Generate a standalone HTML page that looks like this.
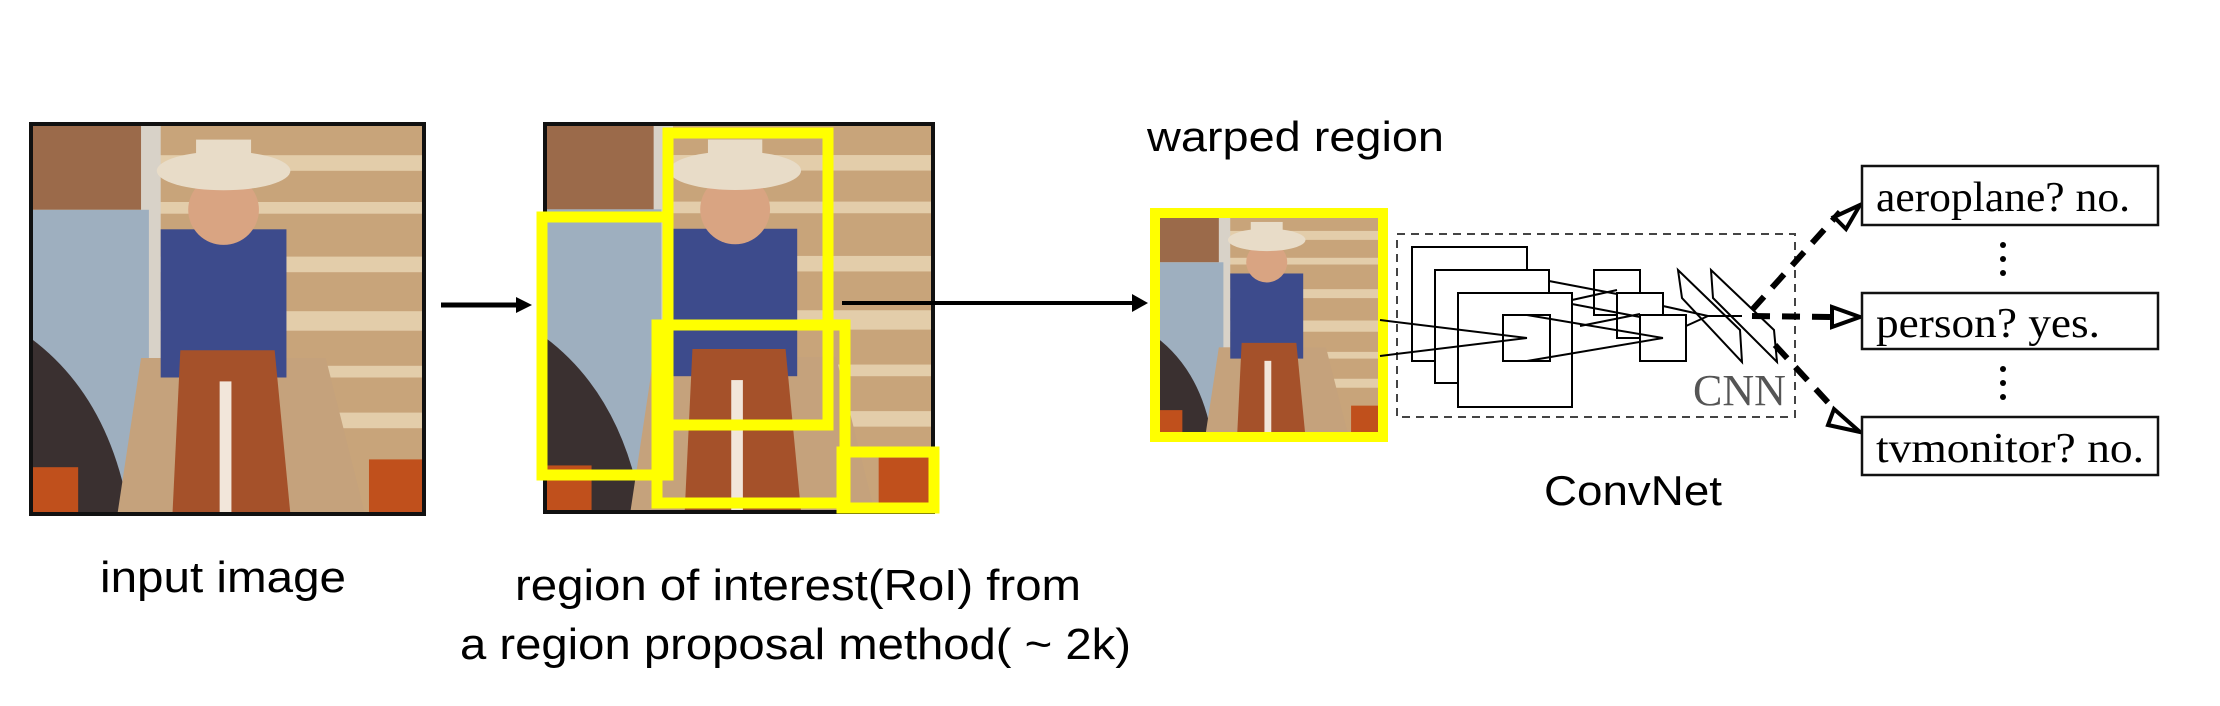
<!DOCTYPE html>
<html><head><meta charset="utf-8"><style>
html,body{margin:0;padding:0;background:#fff;}
body{width:2220px;height:706px;overflow:hidden;position:relative;}
svg{position:absolute;left:0;top:0;}
</style></head><body>
<svg width="2220" height="706" viewBox="0 0 2220 706" xmlns="http://www.w3.org/2000/svg">
<defs>
<symbol id="photo" viewBox="0 0 100 100" preserveAspectRatio="none">
<rect x="0" y="0" width="100" height="100" fill="#c8a47a"/>
<g fill="#e3cdaa">
<rect x="0" y="8" width="100" height="4"/><rect x="0" y="20" width="100" height="3"/>
<rect x="0" y="34" width="100" height="4"/><rect x="0" y="48" width="100" height="5"/>
<rect x="0" y="62" width="100" height="3"/><rect x="0" y="74" width="100" height="4"/>
</g>
<rect x="0" y="0" width="30" height="22" fill="#9b6a4a"/>
<rect x="28" y="0" width="5" height="60" fill="#d8d2c8"/>
<rect x="0" y="22" width="30" height="78" fill="#9eafbf"/>
<path d="M0 55 Q20 70 25 100 L0 100Z" fill="#3a3030"/>
<path d="M28 60 L75 60 L85 100 L22 100Z" fill="#c5a27c"/>
<rect x="33" y="27" width="32" height="38" fill="#3d4b8c"/>
<ellipse cx="49" cy="22" rx="9" ry="9" fill="#d9a482"/>
<ellipse cx="49" cy="12" rx="17" ry="5" fill="#e8dcc8"/>
<rect x="42" y="4" width="14" height="9" fill="#e8dcc8"/>
<path d="M38 58 L62 58 L66 100 L36 100Z" fill="#a5512a"/>
<rect x="48" y="66" width="3" height="34" fill="#f2e6da"/>
<rect x="0" y="88" width="12" height="12" fill="#c0501c"/>
<rect x="86" y="86" width="14" height="14" fill="#c0501c"/>
</symbol>
</defs>

<use href="#photo" x="31" y="124" width="393" height="390"/>
<rect x="31" y="124" width="393" height="390" fill="none" stroke="#111" stroke-width="4"/>

<line x1="441" y1="305" x2="520" y2="305" stroke="#000" stroke-width="5"/>
<polygon points="532,305 516,297 516,313" fill="#000"/>

<use href="#photo" x="545" y="124" width="388" height="388"/>
<rect x="545" y="124" width="388" height="388" fill="none" stroke="#111" stroke-width="4"/>
<g fill="none" stroke="#ffff00" stroke-width="11">
<rect x="668" y="133" width="160" height="292"/>
<rect x="542" y="217" width="126" height="258"/>
<rect x="657" y="325" width="188" height="178"/>
<rect x="842" y="452" width="92" height="56"/>
</g>

<line x1="842" y1="303" x2="1135" y2="303" stroke="#000" stroke-width="4"/>
<polygon points="1148,303 1132,294 1132,312" fill="#000"/>

<text x="1147" y="151" font-family="Liberation Sans, DejaVu Sans, sans-serif" font-size="42" textLength="297" lengthAdjust="spacingAndGlyphs" fill="#000">warped region</text>
<use href="#photo" x="1155" y="213" width="228" height="224"/>
<rect x="1155" y="213" width="228" height="224" fill="none" stroke="#ffff00" stroke-width="10"/>

<rect x="1397" y="234" width="398" height="183" fill="none" stroke="#444" stroke-width="2" stroke-dasharray="8,6"/>
<g fill="#fff" stroke="#000" stroke-width="2">
<rect x="1412" y="247" width="115" height="114"/>
<rect x="1435" y="270" width="114" height="113"/>
<rect x="1458" y="293" width="114" height="114"/>
<rect x="1503" y="315" width="47" height="46"/>
<rect x="1594" y="270" width="46" height="45"/>
<rect x="1617" y="293" width="46" height="45"/>
<rect x="1640" y="315" width="46" height="46"/>
<polygon points="1678,270 1682,298 1742,362 1740,330"/>
<polygon points="1711,270 1713,298 1777,362 1774,330"/>
</g>
<g stroke="#000" stroke-width="2" fill="none">
<line x1="1380" y1="320" x2="1527" y2="338"/>
<line x1="1380" y1="356" x2="1527" y2="338"/>
<line x1="1549" y1="281" x2="1617" y2="294"/>
<line x1="1572" y1="300" x2="1617" y2="290"/>
<line x1="1572" y1="304" x2="1640" y2="317"/>
<line x1="1580" y1="326" x2="1640" y2="314"/>
<line x1="1527" y1="315" x2="1663" y2="338"/>
<line x1="1527" y1="361" x2="1663" y2="338"/>
<line x1="1663" y1="306" x2="1708" y2="316"/>
<line x1="1686" y1="326" x2="1708" y2="316"/>
<line x1="1708" y1="316" x2="1742" y2="316"/>
</g>
<text x="1693" y="405" font-family="Liberation Serif, serif" font-size="44" fill="#555">CNN</text>
<text x="1544" y="505" font-family="Liberation Sans, DejaVu Sans, sans-serif" font-size="42" textLength="178" lengthAdjust="spacingAndGlyphs" fill="#000">ConvNet</text>

<g stroke="#000" stroke-width="6" stroke-dasharray="18,12" fill="none">
<line x1="1752" y1="310" x2="1840" y2="212"/>
<line x1="1752" y1="316" x2="1830" y2="317"/>
<line x1="1775" y1="345" x2="1835" y2="410"/>
</g>
<g fill="#fff" stroke="#000" stroke-width="4">
<polygon points="1860,205 1834,217 1846,229"/>
<polygon points="1860,317 1832,307 1832,327"/>
<polygon points="1860,432 1834,409 1828,425"/>
</g>

<g fill="#fff" stroke="#111" stroke-width="2.5">
<rect x="1862" y="166" width="296" height="59"/>
<rect x="1862" y="293" width="296" height="56"/>
<rect x="1862" y="417" width="296" height="58"/>
</g>
<g font-family="Liberation Serif, serif" font-size="42" fill="#000" lengthAdjust="spacingAndGlyphs">
<text x="1876" y="211" textLength="254" lengthAdjust="spacingAndGlyphs">aeroplane? no.</text>
<text x="1876" y="337" textLength="224" lengthAdjust="spacingAndGlyphs">person? yes.</text>
<text x="1876" y="462" textLength="268" lengthAdjust="spacingAndGlyphs">tvmonitor? no.</text>
</g>
<g fill="#000">
<circle cx="2003" cy="245" r="3"/><circle cx="2003" cy="259" r="3"/><circle cx="2003" cy="273" r="3"/>
<circle cx="2003" cy="369" r="3"/><circle cx="2003" cy="383" r="3"/><circle cx="2003" cy="397" r="3"/>
</g>

<g font-family="Liberation Sans, DejaVu Sans, sans-serif" font-size="44" fill="#000">
<text x="100" y="592" textLength="246" lengthAdjust="spacingAndGlyphs">input image</text>
<text x="515" y="600" textLength="566" lengthAdjust="spacingAndGlyphs">region of interest(RoI) from</text>
<text x="460" y="659" textLength="671" lengthAdjust="spacingAndGlyphs">a region proposal method( ~ 2k)</text>
</g>
</svg>
</body></html>
